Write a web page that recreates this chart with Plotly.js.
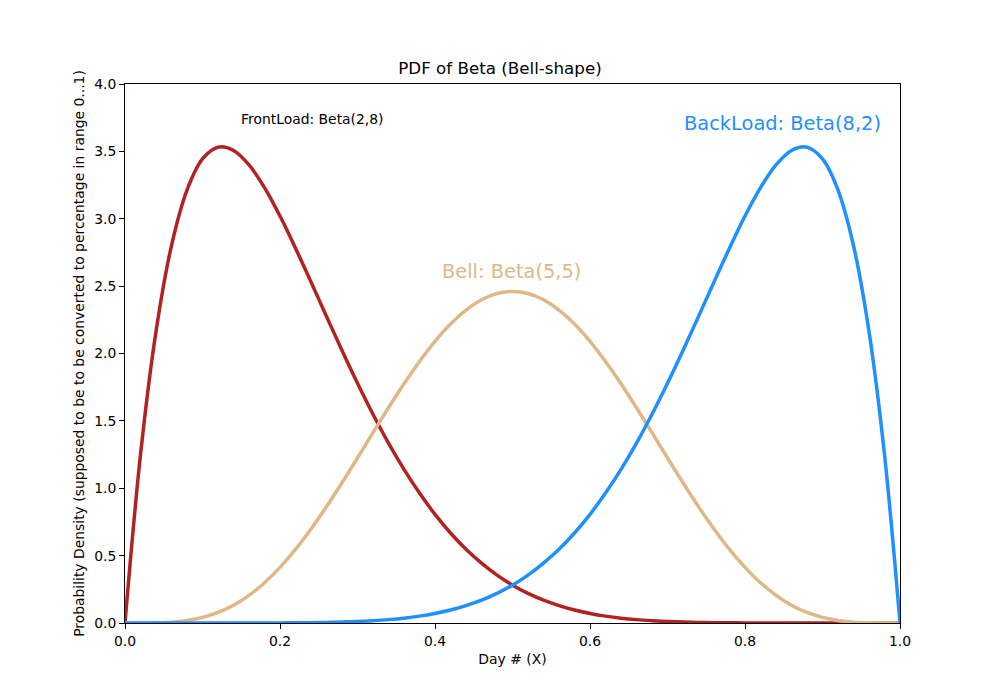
<!DOCTYPE html>
<html>
<head>
<meta charset="utf-8">
<script src="https://cdn.plot.ly/plotly-3.0.1.min.js"></script>
<style>html,body{margin:0;padding:0;background:#fff;}#chart{width:1000px;height:700px;}</style>
</head>
<body>
<div id="chart"></div>
<script>
const xValues = [0.00,0.02,0.04,0.06,0.08,0.10,0.12,0.14,0.16,0.18,0.20,0.22,0.24,0.26,0.28,0.30,0.32,0.34,0.36,0.38,0.40,0.42,0.44,0.46,0.48,0.50,0.52,0.54,0.56,0.58,0.60,0.62,0.64,0.66,0.68,0.70,0.72,0.74,0.76,0.78,0.80,0.82,0.84,0.86,0.88,0.90,0.92,0.94,0.96,0.98,1.00];

const frontLoad = [0,1.250,2.164,2.801,3.213,3.444,3.531,3.507,3.400,3.231,3.020,2.782,2.531,2.275,2.022,1.779,1.549,1.335,1.140,0.964,0.806,0.668,0.547,0.444,0.355,0.281,0.220,0.169,0.129,0.096,0.071,0.051,0.036,0.025,0.017,0.011,0.007,0.004,0.0025,0.0014,0.0007,0.0004,0.0002,0.0001,0,0,0,0,0,0,0];

const bell = [0,0.0001,0.0014,0.0064,0.0185,0.0413,0.0783,0.1324,0.2056,0.2990,0.4129,0.5463,0.6973,0.8633,1.0407,1.2252,1.4125,1.5975,1.7753,1.9411,2.0902,2.2185,2.3222,2.3986,2.4452,2.4609,2.4452,2.3986,2.3222,2.2185,2.0902,1.9411,1.7753,1.5975,1.4125,1.2252,1.0407,0.8633,0.6973,0.5463,0.4129,0.2990,0.2056,0.1324,0.0783,0.0413,0.0185,0.0064,0.0014,0.0001,0];

const backLoad = [0,0,0,0,0,0,0,0.0001,0.0002,0.0004,0.0007,0.0014,0.0025,0.004,0.007,0.011,0.017,0.025,0.036,0.051,0.071,0.096,0.129,0.169,0.220,0.281,0.355,0.444,0.547,0.668,0.806,0.964,1.140,1.335,1.549,1.779,2.022,2.275,2.531,2.782,3.020,3.231,3.400,3.507,3.531,3.444,3.213,2.801,2.164,1.250,0];

const seriesNames = ['FrontLoad: Beta(2,8)','Bell: Beta(5,5)','BackLoad: Beta(8,2)'];
const colors = ['#b22222','#deb887','#1e90ff'];
const xTicks = [0,0.2,0.4,0.6,0.8,1.0];
const yTicks = [0,0.5,1.0,1.5,2.0,2.5,3.0,3.5,4.0];

const font = 'DejaVu Sans, sans-serif';
const series = [frontLoad, bell, backLoad];
const traces = series.map((ys,i)=>({
  x: xValues, y: ys, type:'scatter', mode:'lines', name: seriesNames[i],
  line:{color:colors[i], width:3.5, shape:'spline', smoothing:1},
  hoverinfo:'skip'
}));

const axisCommon = {
  showline:true, mirror:true, linecolor:'#000', linewidth:1,
  ticks:'outside', ticklen:5, tickwidth:1, tickcolor:'#000',
  showgrid:false, zeroline:false,
  tickfont:{family:font, size:13.9, color:'#000'}
};

const layout = {
  width:1000, height:700,
  margin:{l:125, r:100, t:84, b:77},
  paper_bgcolor:'#fff', plot_bgcolor:'#fff',
  showlegend:false,
  title:{text:'PDF of Beta (Bell-shape)', font:{family:font, size:16.7, color:'#000'}, x:0.5, xanchor:'center', y:1-74/700, yanchor:'bottom', yref:'container'},
  xaxis:Object.assign({}, axisCommon, {range:[0,1], tickvals:xTicks, tickformat:'.1f',
    title:{text:'Day # (X)', font:{family:font, size:13.9, color:'#000'}, standoff:6}}),
  yaxis:Object.assign({}, axisCommon, {range:[0,4], tickvals:yTicks, tickformat:'.1f',
    title:{text:'Probability Density (supposed to be to be converted to percentage in range 0...1)', font:{family:font, size:13.9, color:'#000'}, standoff:6}}),
  annotations:[
    {x:0.15, y:3.7, xref:'x', yref:'y', text:seriesNames[0], showarrow:false, xanchor:'left', yanchor:'bottom', yshift:-5, xshift:-2, font:{family:font, size:13.9, color:'#000'}},
    {x:0.41, y:2.55, xref:'x', yref:'y', text:seriesNames[1], showarrow:false, xanchor:'left', yanchor:'bottom', yshift:-6, xshift:-3, font:{family:font, size:19.4, color:colors[1]}},
    {x:0.72, y:3.65, xref:'x', yref:'y', text:seriesNames[2], showarrow:false, xanchor:'left', yanchor:'bottom', yshift:-6, xshift:-1, font:{family:font, size:19.4, color:colors[2]}}
  ]
};

Plotly.newPlot('chart', traces, layout, {staticPlot:true, displayModeBar:false});
</script>
</body>
</html>
